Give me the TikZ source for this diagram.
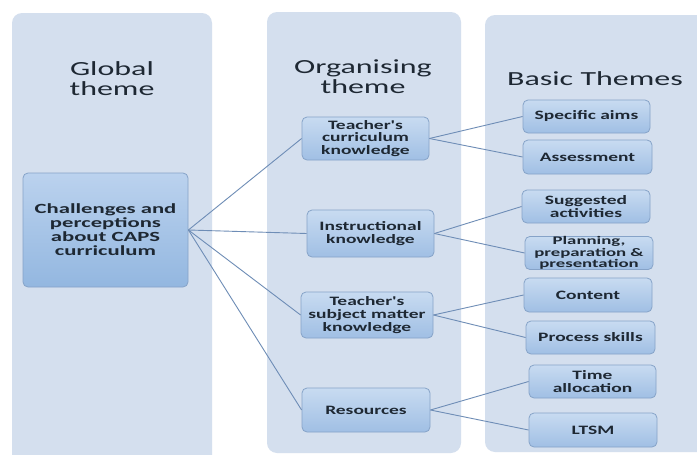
\documentclass[tikz,border=0pt]{standalone}
\usepackage{fontspec}
\setmainfont{Carlito}
\newfontfamily\hdfont{Carlito}[FakeStretch=1.6]
\newfontfamily\ndfont{Carlito}[FakeStretch=1.52]
\newfontfamily\gdfont{Carlito}[FakeStretch=1.62]
\newfontfamily\pdfont{Carlito}[FakeStretch=1.62]
\definecolor{colbg}{HTML}{D4DFEE}
\definecolor{ntop}{HTML}{C8DBF1}
\definecolor{nbot}{HTML}{A0BFE4}
\definecolor{gtop}{HTML}{BBD2EE}
\definecolor{gbot}{HTML}{93B7E0}
\definecolor{nbrd}{HTML}{86A3C8}
\definecolor{lnc}{HTML}{6E8DB6}
\definecolor{txt}{HTML}{1E2833}
\tikzset{
  column/.style={fill=colbg, draw=none, rounded corners=10pt},
  header/.style={font=\hdfont\fontsize{20}{20}\selectfont, text=txt, align=center, inner sep=0pt},
  box/.style={draw=nbrd, line width=0.8pt, rounded corners=5pt, top color=ntop, bottom color=nbot,
    font=\ndfont\bfseries\fontsize{12.8}{12.8}\selectfont, text=txt, align=center, inner sep=1pt},
  gbox/.style={box, top color=gtop, bottom color=gbot, font=\gdfont\bfseries\fontsize{14}{14}\selectfont},
  pbox/.style={box, font=\pdfont\bfseries\fontsize{11.6}{11.6}\selectfont, inner sep=0pt},
  link/.style={draw=lnc, line width=0.9pt}
}
\begin{document}
\begin{tikzpicture}[x=1pt,y=-1pt]
\useasboundingbox (0,0) rectangle (697,455);
\clip (0,0) rectangle (697,455);
\fill[white] (0,0) rectangle (697,455);
% columns
\path[column] (12,13) rectangle (212,470);
\path[column] (267,12) rectangle (461,453);
\path[column] (485,15) rectangle (720,452);
% headers
\node[header] (hg) at (112,79) {Global\\theme};
\node[header] (ho) at (363,77) {Organising\\theme};
\node[header] (hb) at (595,79) {Basic Themes};
% global
\node[gbox, minimum width=165pt, minimum height=114pt] (g) at (105.5,230) {Challenges and\\perceptions\\about CAPS\\curriculum};
% organising
\node[box, minimum width=127pt, minimum height=43pt] (tck) at (365.5,138.5) {Teacher's\\curriculum\\knowledge};
\node[box, minimum width=127pt, minimum height=47pt] (ik) at (370.5,233.5) {Instructional\\knowledge};
\node[box, minimum width=132pt, minimum height=46pt] (tsk) at (367,315) {Teacher's\\subject matter\\knowledge};
\node[box, minimum width=128pt, minimum height=44pt] (res) at (366,410) {Resources};
% basic
\node[box, minimum width=127pt, minimum height=33pt] (sa) at (586.5,116.5) {Specific aims};
\node[box, minimum width=129pt, minimum height=34pt] (as) at (587.5,157) {Assessment};
\node[box, minimum width=128pt, minimum height=33pt] (sug) at (586,206.5) {Suggested\\activities};
\node[pbox, minimum width=128pt, minimum height=32pt] (pl) at (589,253) {Planning,\\preparation \&\\presentation};
\node[box, minimum width=128pt, minimum height=34pt] (con) at (588,295) {Content};
\node[box, minimum width=129pt, minimum height=33pt] (ps) at (590.5,337.5) {Process skills};
\node[box, minimum width=127pt, minimum height=33pt] (ta) at (592.5,381.5) {Time\\allocation};
\node[box, minimum width=128pt, minimum height=34pt] (lt) at (593,430) {LTSM};
% links
\draw[link] (g.east) -- (tck.west);
\draw[link] (g.east) -- (ik.west);
\draw[link] (g.east) -- (tsk.west);
\draw[link] (g.east) -- (res.west);
\draw[link] (tck.east) -- (sa.west);
\draw[link] (tck.east) -- (as.west);
\draw[link] (ik.east) -- (sug.west);
\draw[link] (ik.east) -- (pl.west);
\draw[link] (tsk.east) -- (con.west);
\draw[link] (tsk.east) -- (ps.west);
\draw[link] (res.east) -- (ta.west);
\draw[link] (res.east) -- (lt.west);
\end{tikzpicture}
\end{document}
